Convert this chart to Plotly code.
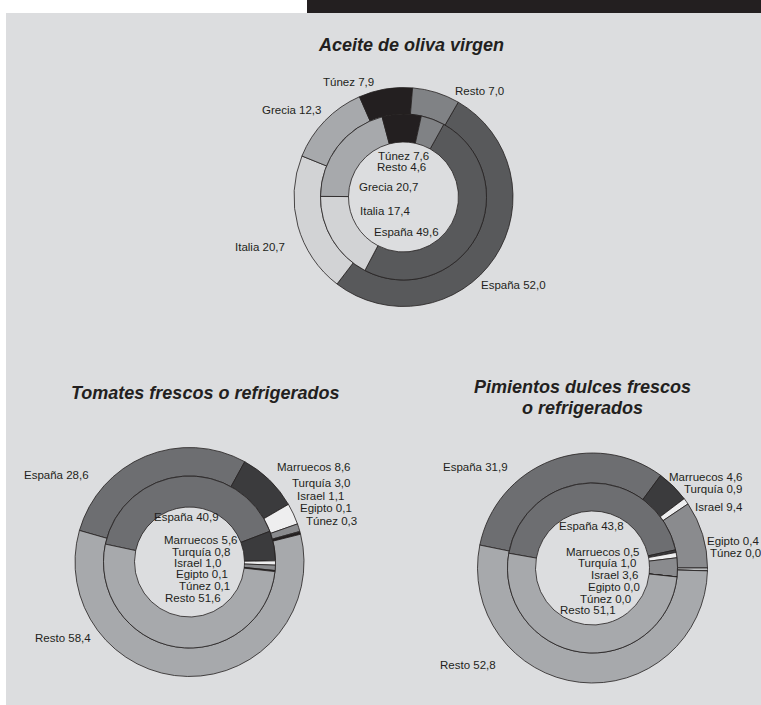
import plotly.graph_objects as go

# ---------------- data ----------------
aceite_cats = ["España", "Italia", "Grecia", "Túnez", "Resto"]
aceite_outer = [52.0, 20.7, 12.3, 7.9, 7.0]
aceite_inner = [49.6, 17.4, 20.7, 7.6, 4.6]

veg_cats = ["España", "Marruecos", "Turquía", "Israel", "Egipto", "Túnez", "Resto"]
tomates_outer = [28.6, 8.6, 3.0, 1.1, 0.1, 0.3, 58.4]
tomates_inner = [40.9, 5.6, 0.8, 1.0, 0.1, 0.1, 51.6]
pimientos_outer = [31.9, 4.6, 0.9, 9.4, 0.4, 0.0, 52.8]
pimientos_inner = [43.8, 0.5, 1.0, 3.6, 0.0, 0.0, 51.1]

titles = ["Aceite de oliva virgen", "Tomates frescos o refrigerados",
          "Pimientos dulces frescos<br>o refrigerados"]

# ---------------- styles ----------------
W, H = 761, 705
PANEL = "#dcdddf"
INK = "#231f20"
aceite_colors = ["#58595b", "#d2d3d5", "#a7a9ac", "#231f20", "#808285"]
veg_colors = ["#6d6e71", "#3b3b3d", "#eeeeef", "#8a8b8e", "#bcbec0", "#231f20", "#a7a9ac"]


def fx(px):
    return px / W


def fy(py):
    return 1 - py / H


def label(cat, v):
    return f"{cat} {v:.1f}".replace(".", ",")


fig = go.Figure()


def ring(values, cats, colors, cx, cy, r_out, r_in, rot):
    fig.add_trace(go.Pie(
        values=values, labels=cats, sort=False, direction="clockwise",
        rotation=rot, hole=r_in / r_out, textinfo="none",
        marker=dict(colors=colors, line=dict(color=INK, width=0.8)),
        domain=dict(x=[fx(cx - r_out), fx(cx + r_out)],
                    y=[fy(cy + r_out), fy(cy - r_out)]),
        showlegend=False, hoverinfo="label+value",
    ))


# Aceite
ring(aceite_outer, aceite_cats, aceite_colors, 403.5, 197, 109.5, 83, 30)
ring(aceite_inner, aceite_cats, aceite_colors, 403.5, 197, 83, 55, 29)
# Tomates
ring(tomates_outer, veg_cats, veg_colors, 189.5, 562, 114.5, 86, 286)
ring(tomates_inner, veg_cats, veg_colors, 189.5, 562, 86, 55, 282)
# Pimientos
ring(pimientos_outer, veg_cats, veg_colors, 592.5, 568, 115, 85, 281.5)
ring(pimientos_inner, veg_cats, veg_colors, 592.5, 568, 85, 57, 280)

annotations = []
FONT = "Liberation Sans, Arial, sans-serif"


def txt(text, x, y, anchor="left", size=11.5):
    annotations.append(dict(
        text=text, x=fx(x), y=fy(y), xref="paper", yref="paper",
        xanchor=anchor, yanchor="middle", showarrow=False,
        font=dict(family=FONT, size=size, color=INK),
    ))


def title(text, x, y):
    annotations.append(dict(
        text=f"<b><i>{text}</i></b>", x=fx(x), y=fy(y), xref="paper", yref="paper",
        xanchor="center", yanchor="middle", showarrow=False,
        font=dict(family=FONT, size=18, color=INK),
    ))


title(titles[0], 411, 45)
title(titles[1], 205, 393)
for i, line in enumerate(titles[2].split("<br>")):
    title(line, 582, 387 + 21 * i)

# Aceite labels: outer (x, y, anchor), inner
ace_out_pos = [(548, 285, "right"), (287, 247, "right"), (323, 110, "right"),
               (348, 82, "center"), (453, 91, "left")]
ace_in_pos = [(406, 232, "center"), (385, 211, "center"), (389, 187, "center"),
              (403, 156, "center"), (401, 167, "center")]
for c, v, p in zip(aceite_cats, aceite_outer, ace_out_pos):
    txt(label(c, v), p[0], p[1], p[2])
for c, v, p in zip(aceite_cats, aceite_inner, ace_in_pos):
    txt(label(c, v), p[0], p[1], p[2])

tom_out_pos = [(91, 475, "right"), (275, 467, "left"), (290, 483, "left"),
               (295, 496, "left"), (298, 508, "left"), (304, 521, "left"),
               (93, 638, "right")]
tom_in_pos = [(186, 517, "center"), (240, 540, "right"), (232, 552, "right"),
              (223, 563, "right"), (230, 574, "right"), (232, 586, "right"),
              (223, 598, "right")]
for c, v, p in zip(veg_cats, tomates_outer, tom_out_pos):
    txt(label(c, v), p[0], p[1], p[2])
for c, v, p in zip(veg_cats, tomates_inner, tom_in_pos):
    txt(label(c, v), p[0], p[1], p[2])

pim_out_pos = [(510, 467, "right"), (667, 477, "left"), (682, 489, "left"),
               (693, 507, "left"), (705, 541, "left"), (708, 553, "left"),
               (498, 665, "right")]
pim_in_pos = [(591, 526, "center"), (642, 552, "right"), (638, 563, "right"),
              (640, 575, "right"), (642, 587, "right"), (633, 599, "right"),
              (618, 610, "right")]
for c, v, p in zip(veg_cats, pimientos_outer, pim_out_pos):
    txt(label(c, v), p[0], p[1], p[2])
for c, v, p in zip(veg_cats, pimientos_inner, pim_in_pos):
    txt(label(c, v), p[0], p[1], p[2])

shapes = [
    dict(type="rect", xref="paper", yref="paper", x0=fx(6), x1=1.0, y0=0, y1=fy(13),
         fillcolor=PANEL, line=dict(width=0), layer="below"),
    dict(type="rect", xref="paper", yref="paper", x0=fx(307), x1=1.0, y0=fy(13), y1=1.0,
         fillcolor=INK, line=dict(width=0), layer="below"),
]

fig.update_layout(
    width=W, height=H, margin=dict(l=0, r=0, t=0, b=0),
    paper_bgcolor="white", plot_bgcolor="white",
    shapes=shapes, annotations=annotations, showlegend=False,
)

fig.write_html(
    "out.html",
    config={"displayModeBar": False},
    post_script="document.body.style.margin='0';document.body.style.overflow='hidden';",
)
